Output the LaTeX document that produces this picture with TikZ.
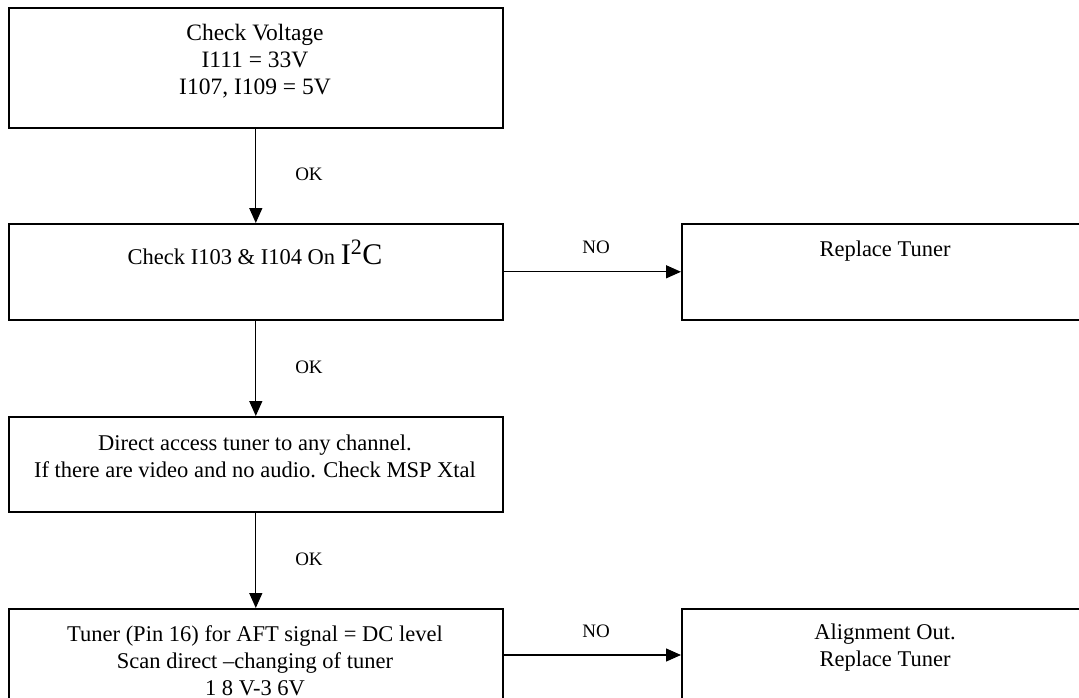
\documentclass[tikz,border=0pt]{standalone}
\usepackage{fontspec}
\setmainfont{Liberation Serif}
\usetikzlibrary{arrows.meta}
\begin{document}
\begin{tikzpicture}[x=1pt,y=-1pt,
  box/.style={draw, line width=1.6pt, rectangle, inner sep=0pt, anchor=north west},
  txt/.style={align=center, font=\fontsize{22.5}{27}\selectfont, anchor=base, inner sep=0pt},
  lbl/.style={font=\fontsize{19}{20}\selectfont, anchor=base, inner sep=0pt},
  arr/.style={line width=1.3pt, -{Triangle[length=15pt,width=13pt]}}]
\clip (0,0) rectangle (1079,698);
\fill[white] (0,0) rectangle (1079,698);
% boxes
\node[box, minimum width=494pt, minimum height=120pt] (b1) at (8,7) {};
\node[box, minimum width=494pt, minimum height=96pt] (b2) at (8,223) {};
\node[box, minimum width=494pt, minimum height=95pt] (b3) at (8,416) {};
\node[box, minimum width=494pt, minimum height=120pt] (b4) at (8,608) {};
\node[box, minimum width=408pt, minimum height=96pt] (r1) at (681,223) {};
\node[box, minimum width=408pt, minimum height=120pt] (r2) at (681,608) {};
% texts (anchor base = baseline of the last line)
\node[txt, font=\fontsize{23.5}{27}\selectfont] (t1) at (255,95) {Check Voltage\\I111 = 33V\\I107, I109 = 5V};
\node[txt] (t2) at (255,264) {Check I103 \& I104 On {\fontsize{30}{30}\selectfont I\textsuperscript{\fontsize{22}{22}\selectfont 2}C}};
\node[txt] (t3) at (255,477) {Direct access tuner to any channel.\\If there are video and no audio. Check MSP Xtal};
\node[txt] (t4) at (255,695) {Tuner (Pin 16) for AFT signal = DC level\\Scan direct --changing of tuner\\1 8 V-3 6V};
\node[txt] (tr1) at (885,256) {Replace Tuner};
\node[txt] (tr2) at (885,666) {Alignment Out.\\Replace Tuner};
% connectors
\draw[arr] (b1.south) -- (b2.north);
\draw[arr] (b2.south) -- (b3.north);
\draw[arr] (b3.south) -- (b4.north);
\draw[arr] (b2.east) -- (r1.west);
\draw[arr] ([yshift=-47pt]b4.north east) -- ([yshift=-47pt]r2.north west);
% labels
\node[lbl] (ok1) at (309,180) {OK};
\node[lbl] (ok2) at (309,373) {OK};
\node[lbl] (ok3) at (309,565) {OK};
\node[lbl] (no1) at (596,253) {NO};
\node[lbl] (no2) at (596,637) {NO};
\end{tikzpicture}
\end{document}
